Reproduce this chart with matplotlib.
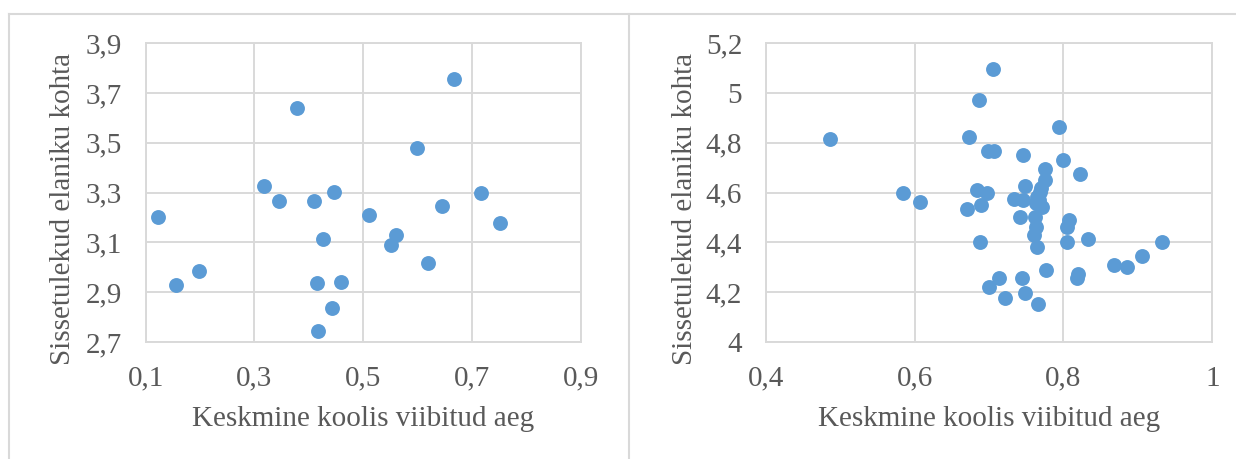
import matplotlib
matplotlib.use("Agg")
import matplotlib.pyplot as plt
from matplotlib.ticker import FuncFormatter

# left panel data
left_x = [0.123, 0.156, 0.198, 0.318, 0.345, 0.378, 0.410, 0.447, 0.426, 0.415, 0.459,
          0.443, 0.416, 0.511, 0.560, 0.551, 0.598, 0.619, 0.645, 0.666, 0.717, 0.752]
left_y = [3.204, 2.930, 2.984, 3.325, 3.268, 3.640, 3.268, 3.301, 3.114, 2.936, 2.942,
          2.835, 2.743, 3.212, 3.131, 3.088, 3.481, 3.016, 3.248, 3.757, 3.300, 3.177]

# right panel data
right_x = [0.487, 0.585, 0.607, 0.671, 0.673, 0.687, 0.705, 0.699, 0.707, 0.684,
           0.698, 0.689, 0.688, 0.713, 0.700, 0.722, 0.744, 0.748, 0.766, 0.777,
           0.746, 0.794, 0.799, 0.822, 0.775, 0.775, 0.748, 0.768, 0.764, 0.733,
           0.746, 0.771, 0.763, 0.742, 0.762, 0.763, 0.760, 0.764, 0.807, 0.805,
           0.805, 0.833, 0.819, 0.818, 0.868, 0.886, 0.905, 0.932, 0.770, 0.767]
right_y = [4.817, 4.600, 4.563, 4.533, 4.822, 4.972, 5.097, 4.767, 4.767, 4.611,
           4.600, 4.550, 4.403, 4.259, 4.222, 4.175, 4.256, 4.197, 4.151, 4.291,
           4.753, 4.865, 4.730, 4.676, 4.694, 4.651, 4.627, 4.604, 4.584, 4.573,
           4.570, 4.544, 4.558, 4.503, 4.501, 4.462, 4.430, 4.383, 4.490, 4.461,
           4.402, 4.414, 4.273, 4.259, 4.309, 4.301, 4.346, 4.402, 4.620, 4.570]

x_label = "Keskmine koolis viibitud aeg"
y_label = "Sissetulekud elaniku kohta"

grey = "#d9d9d9"
text_grey = "#595959"
dot = "#5b9bd5"

plt.rcParams['font.family'] = ['Liberation Serif', 'DejaVu Serif']

def comma(v, pos):
    s = ("%.1f" % v).rstrip("0").rstrip(".")
    return s.replace(".", ",")

def setup(ax, xlim, xticks, ylim, yticks, ylab_x):
    ax.set_xlim(xlim)
    ax.set_ylim(ylim)
    ax.set_xticks(xticks)
    ax.set_yticks(yticks)
    ax.xaxis.set_major_formatter(FuncFormatter(comma))
    ax.yaxis.set_major_formatter(FuncFormatter(comma))
    ax.grid(True, color=grey, linewidth=1.4)
    ax.set_axisbelow(True)
    for sp in ax.spines.values():
        sp.set_color(grey)
        sp.set_linewidth(1.4)
    ax.tick_params(length=0, labelsize=21, labelcolor=text_grey)
    ax.tick_params(axis='x', pad=17)
    ax.tick_params(axis='y', pad=17)
    ax.set_xlabel(x_label, fontsize=21, color=text_grey)
    ax.set_ylabel(y_label, fontsize=21, color=text_grey)
    ax.xaxis.set_label_coords(0.5, -0.215)
    ax.yaxis.set_label_coords(ylab_x, 0.445)

fig = plt.figure(figsize=(12.36, 4.59), dpi=100)

ax1 = fig.add_axes([0.1179, 0.2549, 0.352, 0.6508])
ax1.scatter(left_x, left_y, s=115, color=dot, linewidths=0, zorder=3)
setup(ax1, (0.1, 0.9), [0.1, 0.3, 0.5, 0.7, 0.9], (2.7, 3.9),
      [2.7, 2.9, 3.1, 3.3, 3.5, 3.7, 3.9], -0.16)

ax2 = fig.add_axes([0.6195, 0.2549, 0.3613, 0.6508])
ax2.scatter(right_x, right_y, s=115, color=dot, linewidths=0, zorder=3)
setup(ax2, (0.4, 1.0), [0.4, 0.6, 0.8, 1.0], (4.0, 5.2),
      [4.0, 4.2, 4.4, 4.6, 4.8, 5.0, 5.2], -0.152)

# outer chart frames
fig.add_artist(plt.Line2D([8.5 / 1236, 1.0], [1 - 14 / 459, 1 - 14 / 459], color=grey, linewidth=1.5))
fig.add_artist(plt.Line2D([8.5 / 1236, 8.5 / 1236], [0, 1 - 14 / 459], color=grey, linewidth=1.5))
fig.add_artist(plt.Line2D([629 / 1236, 629 / 1236], [0, 1 - 14 / 459], color=grey, linewidth=1.5))

fig.savefig("out.png", dpi=100)
